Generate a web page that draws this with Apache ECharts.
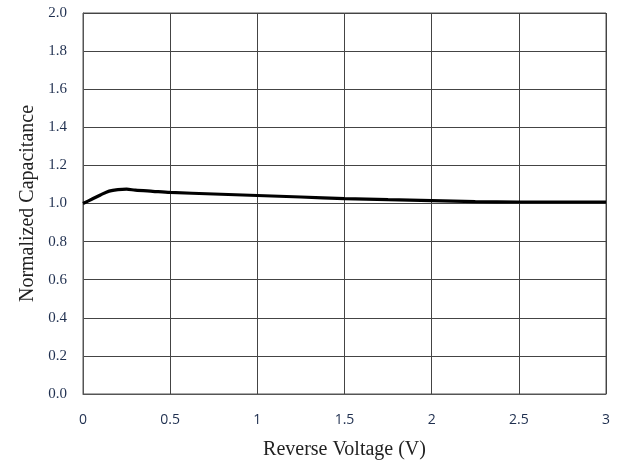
<!DOCTYPE html>
<html><head><meta charset="utf-8">
<script src="https://cdn.jsdelivr.net/npm/echarts@6/dist/echarts.min.js"></script>
<style>html,body{margin:0;padding:0;background:#fff}#c{width:622px;height:466px}</style>
</head><body><div id="c"></div>
<script>
const voltage = [0, 0.05, 0.1, 0.15, 0.2, 0.25, 0.3, 0.4, 0.5, 0.75, 1.0, 1.25, 1.5, 1.75, 2.0, 2.25, 2.5, 2.75, 3.0];
const capacitance = [1.0, 1.022, 1.045, 1.065, 1.073, 1.075, 1.07, 1.064, 1.058, 1.05, 1.042, 1.034, 1.026, 1.02, 1.015, 1.01, 1.008, 1.008, 1.008];
const xTicks = ['0', '0.5', '1', '1.5', '2', '2.5', '3'];

const chart = echarts.init(document.getElementById('c'), null, {renderer: 'canvas'});
const serif = '"Liberation Serif", "DejaVu Serif", serif';
const labelColor = '#1f2f4f';
chart.setOption({
  animation: false,
  grid: {left: 83, right: 16, top: 13, bottom: 72, show: true, borderColor: '#555', borderWidth: 1},
  xAxis: {
    type: 'value', min: 0, max: 3, interval: 0.5,
    name: 'Reverse Voltage (V)', nameLocation: 'middle', nameGap: 46,
    nameTextStyle: {fontFamily: serif, fontSize: 20, color: '#222'},
    axisLine: {show: true, lineStyle: {color: '#555'}},
    axisTick: {show: false},
    splitLine: {show: true, lineStyle: {color: '#444', width: 1}},
    axisLabel: {margin: 19, fontFamily: '"Open Sans", sans-serif', fontSize: 14, color: labelColor,
      formatter: v => xTicks[Math.round(v / 0.5)]}
  },
  yAxis: {
    type: 'value', min: 0, max: 2, interval: 0.2,
    name: 'Normalized Capacitance', nameLocation: 'middle', nameGap: 45,
    nameTextStyle: {fontFamily: serif, fontSize: 20, color: '#222'},
    axisLine: {show: true, lineStyle: {color: '#555'}},
    axisTick: {show: false},
    splitLine: {show: true, lineStyle: {color: '#444', width: 1}},
    axisLabel: {margin: 16, fontFamily: serif, fontSize: 15, color: labelColor,
      formatter: v => v.toFixed(1)}
  },
  series: [{
    type: 'line', smooth: 0.3, symbol: 'none',
    lineStyle: {color: '#000', width: 3.2},
    data: voltage.map((v, i) => [v, capacitance[i]])
  }]
});
</script></body></html>
